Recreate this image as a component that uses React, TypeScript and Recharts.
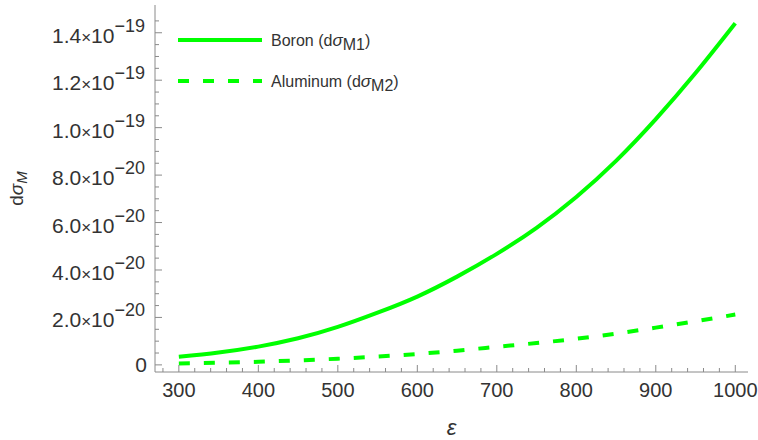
import React from 'react';
import { LineChart, Line, XAxis, YAxis, Legend } from 'recharts';

// y values in units of 1e-20
const epsilon = [300, 350, 400, 450, 500, 550, 600, 650, 700, 750, 800, 850, 900, 950, 1000];
const boron = [0.34, 0.52, 0.77, 1.12, 1.6, 2.2, 2.88, 3.72, 4.68, 5.78, 7.08, 8.6, 10.36, 12.3, 14.4];
const aluminum = [0.06, 0.09, 0.13, 0.19, 0.26, 0.35, 0.46, 0.6, 0.76, 0.92, 1.1, 1.32, 1.57, 1.84, 2.12];

const xMajorTicks = [300, 400, 500, 600, 700, 800, 900, 1000];
const yMajorTicks = [0, 2, 4, 6, 8, 10, 12, 14];
const yTickMantissa = ['0', '2.0', '4.0', '6.0', '8.0', '1.0', '1.2', '1.4'];
const yTickExponent = ['', '\u221220', '\u221220', '\u221220', '\u221220', '\u221219', '\u221219', '\u221219'];

const xMinorTicks: number[] = [];
for (let v = 280; v <= 1000; v += 20) if (v % 100 !== 0) xMinorTicks.push(v);
const yMinorTicks: number[] = [];
for (let v = 0.5; v < 15; v += 0.5) if (v % 2 !== 0) yMinorTicks.push(v);

const xTicks = [...xMajorTicks, ...xMinorTicks].sort((a, b) => a - b);
const yTicks = [...yMajorTicks, ...yMinorTicks].sort((a, b) => a - b);

const data = epsilon.map((e, i) => ({ eps: e, boron: boron[i], aluminum: aluminum[i] }));

const GREEN = '#00ff00';
const FRAME = '#8a8a8a';
const LABEL = '#333333';
const FONT = '"Liberation Sans", Arial, sans-serif';
const X_DOMAIN: [number, number] = [270, 1016];
const Y_DOMAIN: [number, number] = [-0.3, 15.17];
const DASH = '11 14';

const isMajorX = (v: number) => xMajorTicks.includes(v);
const isMajorY = (v: number) => yMajorTicks.includes(v);

function BottomTick(props: any) {
  const { x, y, payload } = props;
  const major = isMajorX(payload.value);
  return (
    <g>
      <line x1={x} x2={x} y1={y} y2={y - (major ? 7 : 4)} stroke={FRAME} />
      {major && (
        <text x={x} y={y + 25} textAnchor="middle" fontSize={20} fontFamily={FONT} fill={LABEL}>
          {payload.value}
        </text>
      )}
    </g>
  );
}

function TopTick(props: any) {
  const { x, y, payload } = props;
  const major = isMajorX(payload.value);
  return <line x1={x} x2={x} y1={y} y2={y + (major ? 7 : 4)} stroke={FRAME} />;
}

function LeftTick(props: any) {
  const { x, y, payload } = props;
  const v = payload.value;
  const idx = yMajorTicks.indexOf(v);
  const major = idx >= 0;
  return (
    <g>
      <line x1={x} x2={x + (major ? 7 : 4)} y1={y} y2={y} stroke={FRAME} />
      {major &&
        (yTickExponent[idx] === '' ? (
          <text x={x - 8} y={y + 7} textAnchor="end" fontSize={21} fontFamily={FONT} fill={LABEL}>
            {yTickMantissa[idx]}
          </text>
        ) : (
          <text x={x - 10} y={y + 10} textAnchor="end" fontSize={21} fontFamily={FONT} fill={LABEL}>
            {yTickMantissa[idx]}
            <tspan fontSize={17}>{'\u00d7'}</tspan>
            10
            <tspan fontSize={18} dy={-11}>
              {yTickExponent[idx]}
            </tspan>
          </text>
        ))}
    </g>
  );
}

function RightTick(props: any) {
  const { x, y, payload } = props;
  const major = isMajorY(payload.value);
  return <line x1={x} x2={x - (major ? 7 : 4)} y1={y} y2={y} stroke={FRAME} />;
}

function YLabel(props: any) {
  const vb = props.viewBox || { x: 0, y: 5, height: 367 };
  const cy = vb.y + vb.height / 2;
  return (
    <text
      x={0}
      y={0}
      transform={`translate(23, ${cy}) rotate(-90)`}
      textAnchor="middle"
      fontSize={19}
      fontFamily={FONT}
      fill={LABEL}
    >
      d<tspan fontStyle="italic">{'\u03c3'}</tspan>
      <tspan fontSize={15} fontStyle="italic" dy={4}>
        M
      </tspan>
    </text>
  );
}

function LegendBox() {
  const rows = [
    { y: 40, dash: undefined, name: 'Boron (d', sub: 'M1' },
    { y: 81, dash: DASH, name: 'Aluminum (d', sub: 'M2' },
  ];
  return (
    <svg width={420} height={110} style={{ position: 'absolute', left: 0, top: 0 }}>
      {rows.map((r) => (
        <g key={r.sub}>
          <line x1={178} x2={262} y1={r.y} y2={r.y} stroke={GREEN} strokeWidth={4} strokeDasharray={r.dash} />
          <text x={271} y={r.y + 6} fontSize={16} fontFamily={FONT} fill={LABEL}>
            {r.name}
            <tspan fontStyle="italic" fontSize={17}>{'\u03c3'}</tspan>
            <tspan dy={4}>{r.sub}</tspan>
            <tspan dy={-4}>)</tspan>
          </text>
        </g>
      ))}
    </svg>
  );
}

export default function App() {
  return (
    <div style={{ position: 'absolute', left: 0, top: 0, width: 758, height: 440, background: '#fff' }}>
      <LineChart width={758} height={440} data={data} margin={{ top: 5, right: 10, bottom: 0, left: 0 }}>
        <XAxis
          dataKey="eps"
          type="number"
          domain={X_DOMAIN}
          ticks={xTicks}
          interval={0}
          allowDataOverflow
          height={68}
          tickSize={0}
          tickMargin={0}
          tickLine={false}
          axisLine={{ stroke: FRAME }}
          tick={<BottomTick />}
          label={{ value: '\u03b5', position: 'insideBottom', offset: 5, fontSize: 22, fontStyle: 'italic', fontFamily: FONT, fill: LABEL }}
        />
        <XAxis
          xAxisId="top"
          orientation="top"
          type="number"
          domain={X_DOMAIN}
          ticks={xTicks}
          interval={0}
          allowDataOverflow
          height={0}
          tickSize={0}
          tickMargin={0}
          tickLine={false}
          axisLine={{ stroke: FRAME }}
          tick={<TopTick />}
        />
        <YAxis
          type="number"
          domain={Y_DOMAIN}
          ticks={yTicks}
          interval={0}
          allowDataOverflow
          width={155}
          tickSize={0}
          tickMargin={0}
          tickLine={false}
          axisLine={{ stroke: FRAME }}
          tick={<LeftTick />}
          label={<YLabel />}
        />
        <YAxis
          yAxisId="right"
          orientation="right"
          type="number"
          domain={Y_DOMAIN}
          ticks={yTicks}
          interval={0}
          allowDataOverflow
          width={0}
          tickSize={0}
          tickMargin={0}
          tickLine={false}
          axisLine={{ stroke: FRAME }}
          tick={<RightTick />}
        />
        <Legend
          layout="vertical"
          align="center"
          verticalAlign="middle"
          wrapperStyle={{ left: 0, top: 0, width: 420, height: 110 }}
          content={() => <LegendBox />}
        />
        <Line
          type="natural"
          dataKey="boron"
          name="Boron"
          stroke={GREEN}
          strokeWidth={4}
          dot={false}
          activeDot={false}
          isAnimationActive={false}
        />
        <Line
          type="natural"
          dataKey="aluminum"
          name="Aluminum"
          stroke={GREEN}
          strokeWidth={4}
          strokeDasharray={DASH}
          dot={false}
          activeDot={false}
          isAnimationActive={false}
        />
      </LineChart>
    </div>
  );
}
